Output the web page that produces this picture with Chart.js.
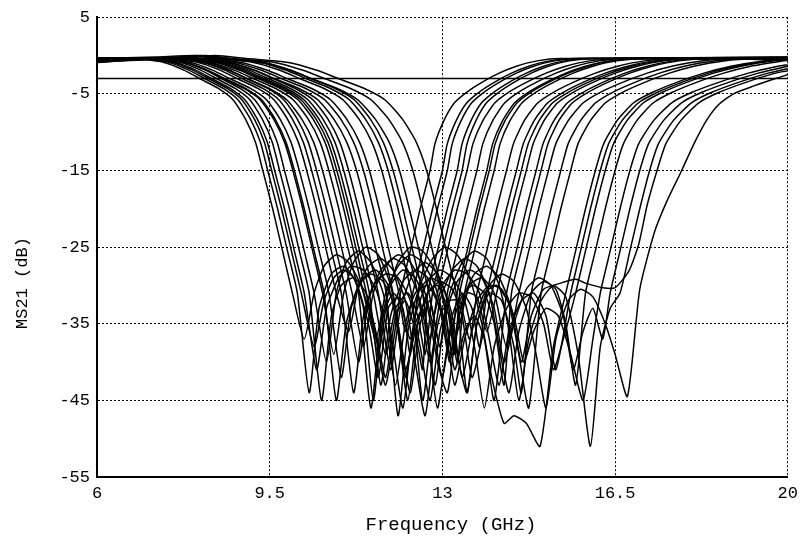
<!DOCTYPE html>
<html>
<head>
<meta charset="utf-8">
<script src="https://cdn.jsdelivr.net/npm/chart.js@4.4.1/dist/chart.umd.min.js"></script>
<style>
  html, body { margin: 0; padding: 0; background: #fff; }
</style>
</head>
<body>
<canvas id="chart" width="804" height="544"></canvas>
<script>
// axis ticks and titles
const freqTicks = [6, 9.5, 13, 16.5, 20];
const dbTicks = [-55, -45, -35, -25, -15, -5, 5];
const xTitle = "Frequency (GHz)";
const yTitle = "MS21 (dB)";

// -3 dB reference level
const refLine = [[6, -3], [20, -3]];

// measured |S21| traces, [GHz, dB]
const s01 = [[6,-0.6],[6.76,-0.4],[7.36,-0.9],[7.76,-1.9],[8.11,-3.1],[8.46,-4.3],[8.76,-5.8],[9.01,-8.3],[9.21,-11.3],[9.36,-15],[9.56,-20],[9.76,-25.5],[9.96,-31],
  [10.2,-37],[10.4,-31],[10.6,-27.5],[10.85,-26],[11.1,-27],[11.35,-30],[11.6,-35],[11.85,-43],
  [12.15,-31],[12.35,-25.5],[12.55,-20],[12.75,-15],[12.85,-11.5],[13.03,-8.5],[13.24,-6.2],[13.49,-4.8],[13.8,-3.5],[14.15,-2.3],[14.5,-1.4],[14.92,-0.7],[15.41,-0.4],[20,-0.5]];
const s02 = [[6,-0.5],[6.86,-0.4],[7.46,-0.9],[7.86,-1.9],[8.21,-3.1],[8.56,-4.3],[8.86,-5.8],[9.11,-8.3],[9.31,-11.3],[9.46,-15],[9.66,-20],[9.86,-25.5],[10.06,-31],
  [10.3,-44],[10.5,-33],[10.75,-28.5],[11.0,-27.5],[11.25,-29.5],[11.5,-35],[11.7,-42],[11.9,-33],[12.1,-31.5],[12.25,-36],
  [12.4,-31],[12.6,-25.5],[12.8,-20],[13.0,-15],[13.1,-11.5],[13.28,-8.5],[13.49,-6.2],[13.74,-4.8],[14.05,-3.5],[14.4,-2.3],[14.75,-1.4],[15.17,-0.7],[15.66,-0.4],[20,-0.3]];
const s03 = [[6,-0.8],[6.94,-0.4],[7.54,-0.9],[7.94,-1.9],[8.29,-3.1],[8.64,-4.3],[8.94,-5.8],[9.19,-8.3],[9.39,-11.3],[9.54,-15],[9.74,-20],[9.94,-25.5],[10.14,-31],
  [10.4,-38],[10.6,-32],[10.8,-29],[11.0,-28],[11.2,-29],[11.4,-33],[11.6,-45],[11.8,-34],[12.0,-31],[12.2,-33],[12.35,-39],
  [12.5,-31],[12.7,-25.5],[12.9,-20],[13.1,-15],[13.2,-11.5],[13.38,-8.5],[13.59,-6.2],[13.84,-4.8],[14.15,-3.5],[14.5,-2.3],[14.85,-1.4],[15.27,-0.7],[15.76,-0.4],[20,-0.4]];
const s04 = [[6,-0.4],[7.1,-0.4],[7.7,-0.9],[8.1,-1.9],[8.45,-3.1],[8.8,-4.3],[9.1,-5.8],[9.35,-8.3],[9.55,-11.3],[9.7,-15],[9.9,-20],[10.1,-25.5],[10.3,-31],
  [10.55,-45],[10.75,-34],[10.95,-30],[11.2,-29],[11.45,-31],[11.65,-36],[11.85,-42],[12.05,-34],[12.25,-32],[12.45,-36],[12.6,-41],
  [12.7,-31],[12.9,-25.5],[13.1,-20],[13.3,-15],[13.4,-11.5],[13.58,-8.5],[13.79,-6.2],[14.04,-4.8],[14.35,-3.5],[14.7,-2.3],[15.05,-1.4],[15.47,-0.7],[15.96,-0.4],[20,-0.2]];
const s05 = [[6,-0.7],[7.2,-0.4],[7.8,-0.9],[8.2,-1.9],[8.55,-3.1],[8.9,-4.3],[9.2,-5.8],[9.45,-8.3],[9.65,-11.3],[9.8,-15],[10.0,-20],[10.2,-25.5],[10.4,-31],
  [10.65,-40],[10.85,-31],[11.05,-27],[11.3,-25.5],[11.55,-27],[11.8,-31],[12.0,-38],[12.2,-46],[12.4,-36],[12.6,-33],[12.75,-37],
  [12.9,-31],[13.1,-25.5],[13.3,-20],[13.5,-15],[13.62,-11.5],[13.82,-8.5],[14.06,-6.2],[14.34,-4.8],[14.7,-3.5],[15.1,-2.3],[15.5,-1.4],[15.98,-0.7],[16.54,-0.4],[20,-0.3]];
const s06 = [[6,-0.3],[7.11,-0.4],[7.77,-0.9],[8.21,-1.9],[8.59,-3.1],[8.98,-4.3],[9.31,-5.8],[9.58,-8.3],[9.8,-11.3],[9.97,-15],[10.17,-20],[10.37,-25.5],[10.57,-31],
  [10.8,-39],[11.0,-31],[11.2,-27],[11.45,-25],[11.7,-26],[11.95,-30],[12.15,-37],[12.35,-44],[12.55,-35],[12.75,-32],[12.95,-38],
  [13.1,-31],[13.3,-25.5],[13.5,-20],[13.7,-15],[13.82,-11.5],[14.02,-8.5],[14.26,-6.2],[14.54,-4.8],[14.9,-3.5],[15.3,-2.3],[15.7,-1.4],[16.18,-0.7],[16.74,-0.4],[20,-0.2]];
const s07 = [[6,-0.9],[7.24,-0.4],[7.9,-0.9],[8.34,-1.9],[8.72,-3.1],[9.11,-4.3],[9.44,-5.8],[9.71,-8.3],[9.93,-11.3],[10.1,-15],[10.3,-20],[10.5,-25.5],[10.7,-31],
  [10.95,-42],[11.15,-33],[11.4,-29],[11.65,-28],[11.9,-30],[12.1,-36],[12.3,-45],[12.5,-35],[12.7,-31],[12.9,-30],[13.1,-33],[13.25,-39],
  [13.35,-31],[13.55,-25.5],[13.75,-20],[13.95,-15],[14.07,-11.5],[14.27,-8.5],[14.51,-6.2],[14.79,-4.8],[15.15,-3.5],[15.55,-2.3],[15.95,-1.4],[16.43,-0.7],[16.99,-0.4],[20,-0.3]];
const s08 = [[6,-0.5],[7.39,-0.4],[8.05,-0.9],[8.49,-1.9],[8.87,-3.1],[9.26,-4.3],[9.59,-5.8],[9.86,-8.3],[10.08,-11.3],[10.25,-15],[10.45,-20],[10.65,-25.5],[10.85,-31],
  [11.1,-36],[11.3,-30],[11.5,-27.5],[11.75,-26.5],[12.0,-28],[12.25,-32],[12.45,-40],[12.65,-47],[12.85,-37],[13.0,-33],[13.15,-34],[13.3,-40],
  [13.45,-31],[13.65,-25.5],[13.85,-20],[14.05,-15],[14.17,-11.5],[14.37,-8.5],[14.61,-6.2],[14.89,-4.8],[15.25,-3.5],[15.65,-2.3],[16.05,-1.4],[16.53,-0.7],[17.09,-0.4],[20,-0.4]];
const s09 = [[6,-0.6],[7.49,-0.4],[8.15,-0.9],[8.59,-1.9],[8.97,-3.1],[9.36,-4.3],[9.69,-5.8],[9.96,-8.3],[10.18,-11.3],[10.35,-15],[10.55,-20],[10.75,-25.5],[10.95,-31],
  [11.2,-44],[11.4,-34],[11.6,-30],[11.85,-28.5],[12.1,-29],[12.35,-32],[12.55,-38],[12.75,-45],[12.95,-36],[13.15,-32],[13.35,-32],[13.55,-37],
  [13.7,-31],[13.9,-25.5],[14.1,-20],[14.3,-15],[14.44,-11.5],[14.66,-8.5],[14.93,-6.2],[15.25,-4.8],[15.65,-3.5],[16.1,-2.3],[16.55,-1.4],[17.09,-0.7],[17.72,-0.4],[20,-0.3]];
const s10 = [[6,-0.4],[7.45,-0.4],[8.17,-0.9],[8.65,-1.9],[9.07,-3.1],[9.49,-4.3],[9.85,-5.8],[10.15,-8.3],[10.39,-11.3],[10.57,-15],[10.77,-20],[10.97,-25.5],[11.17,-31],
  [11.4,-38],[11.6,-31],[11.85,-27.5],[12.1,-26],[12.35,-27],[12.6,-30],[12.8,-35],[13.0,-42],[13.2,-34],[13.4,-31],[13.6,-33],[13.75,-38],
  [13.9,-31],[14.1,-25.5],[14.3,-20],[14.5,-15],[14.64,-11.5],[14.86,-8.5],[15.13,-6.2],[15.45,-4.8],[15.85,-3.5],[16.3,-2.3],[16.75,-1.4],[17.29,-0.7],[17.92,-0.4],[20,-0.4]];
const s11 = [[6,-0.8],[7.58,-0.4],[8.3,-0.9],[8.78,-1.9],[9.2,-3.1],[9.62,-4.3],[9.98,-5.8],[10.28,-8.3],[10.52,-11.3],[10.7,-15],[10.9,-20],[11.1,-25.5],[11.3,-31],
  [11.55,-46],[11.75,-35],[11.95,-30],[12.2,-28],[12.45,-29],[12.7,-33],[12.9,-40],[13.1,-44],[13.3,-35],[13.5,-31],[13.7,-31.5],[13.9,-36],
  [14.1,-31],[14.3,-25.5],[14.5,-20],[14.7,-15],[14.84,-11.5],[15.06,-8.5],[15.33,-6.2],[15.65,-4.8],[16.05,-3.5],[16.5,-2.3],[16.95,-1.4],[17.49,-0.7],[18.12,-0.4],[20,-0.3]];
const s12 = [[6,-0.5],[7.74,-0.4],[8.46,-0.9],[8.94,-1.9],[9.36,-3.1],[9.78,-4.3],[10.14,-5.8],[10.44,-8.3],[10.68,-11.3],[10.86,-15],[11.06,-20],[11.26,-25.5],[11.46,-31],
  [11.7,-39],[11.9,-31],[12.1,-27],[12.35,-25],[12.6,-25.5],[12.85,-28],[13.05,-33],[13.25,-41],[13.45,-36],[13.65,-34],[13.85,-37],[14.05,-45],
  [14.3,-31],[14.5,-25.5],[14.7,-20],[14.9,-15],[15.04,-11.5],[15.26,-8.5],[15.53,-6.2],[15.85,-4.8],[16.25,-3.5],[16.7,-2.3],[17.15,-1.4],[17.69,-0.7],[18.32,-0.4],[20,-0.5]];
const s13 = [[6,-0.7],[7.8,-0.4],[8.52,-0.9],[9.0,-1.9],[9.42,-3.1],[9.84,-4.3],[10.2,-5.8],[10.5,-8.3],[10.74,-11.3],[10.92,-15],[11.12,-20],[11.32,-25.5],[11.52,-31],
  [11.75,-43],[11.95,-34],[12.2,-29.5],[12.45,-28],[12.7,-29],[12.95,-33],[13.15,-39],[13.35,-35],[13.55,-30],[13.8,-29],[14.05,-31],[14.3,-38],
  [14.55,-31],[14.75,-25.5],[14.95,-20],[15.15,-15],[15.3,-11.5],[15.55,-8.5],[15.85,-6.2],[16.2,-4.8],[16.65,-3.5],[17.15,-2.3],[17.65,-1.4],[18.25,-0.7],[18.95,-0.4],[20,-0.4]];
const s14 = [[6,-0.3],[7.98,-0.4],[8.7,-0.9],[9.18,-1.9],[9.6,-3.1],[10.02,-4.3],[10.38,-5.8],[10.68,-8.3],[10.92,-11.3],[11.1,-15],[11.3,-20],[11.5,-25.5],[11.7,-31],
  [11.95,-41],[12.15,-33],[12.4,-28.5],[12.65,-27],[12.9,-28.5],[13.1,-32],[13.3,-39],[13.5,-44],[13.7,-35],[13.95,-31],[14.2,-32],[14.45,-38],[14.6,-44],
  [14.8,-31],[15.0,-25.5],[15.2,-20],[15.4,-15],[15.55,-11.5],[15.8,-8.5],[16.1,-6.2],[16.45,-4.8],[16.9,-3.5],[17.4,-2.3],[17.9,-1.4],[18.5,-0.7],[19.2,-0.4],[20,-0.3]];
const s15 = [[6,-0.6],[7.0,-0.3],[7.88,-0.4],[8.66,-0.9],[9.18,-1.9],[9.63,-3.1],[10.09,-4.3],[10.48,-5.8],[10.8,-8.3],[11.06,-11.3],[11.26,-15],[11.46,-20],[11.66,-25.5],[11.86,-31],
  [12.1,-47],[12.3,-36],[12.5,-31],[12.75,-29],[13.0,-30],[13.2,-34],[13.4,-42],[13.6,-36],[13.85,-31],[14.1,-30],[14.35,-32.5],[14.55,-39],[14.75,-46],
  [15.0,-31],[15.2,-25.5],[15.4,-20],[15.6,-15],[15.75,-11.5],[16.0,-8.5],[16.3,-6.2],[16.65,-4.8],[17.1,-3.5],[17.6,-2.3],[18.1,-1.4],[18.7,-0.7],[19.4,-0.4],[20,-0.4]];
const s16 = [[6,-0.5],[7.2,-0.3],[8.14,-0.4],[8.92,-0.9],[9.44,-1.9],[9.89,-3.1],[10.35,-4.3],[10.74,-5.8],[11.06,-8.3],[11.32,-11.3],[11.52,-15],[11.72,-20],[11.92,-25.5],[12.12,-31],
  [12.35,-37],[12.55,-30],[12.8,-26.5],[13.05,-25],[13.3,-26],[13.55,-29],[13.8,-35],[14.0,-42],[14.25,-48],[14.45,-47],[14.7,-48],[14.98,-51],[15.25,-38],
  [15.5,-31],[15.7,-25.5],[15.9,-20],[16.1,-15],[16.27,-11.5],[16.54,-8.5],[16.87,-6.2],[17.26,-4.8],[17.75,-3.5],[18.3,-2.3],[18.85,-1.4],[19.51,-0.7],[20,-0.5]];
const s17 = [[6,-0.9],[7.2,-0.4],[8.39,-0.4],[9.17,-0.9],[9.69,-1.9],[10.14,-3.1],[10.6,-4.3],[10.99,-5.8],[11.31,-8.3],[11.57,-11.3],[11.77,-15],[11.97,-20],[12.17,-25.5],[12.37,-31],
  [12.6,-45],[12.8,-35],[13.0,-30],[13.25,-28],[13.5,-28.5],[13.75,-31],[13.95,-37],[14.15,-43],[14.35,-36],[14.6,-32],[14.85,-31],[15.1,-34],[15.3,-41],
  [15.6,-31],[15.8,-25.5],[16.0,-20],[16.2,-15],[16.37,-11.5],[16.64,-8.5],[16.97,-6.2],[17.36,-4.8],[17.85,-3.5],[18.4,-2.3],[18.95,-1.4],[19.61,-0.7],[20,-0.55]];
const s18 = [[6,-0.4],[7.2,-0.2],[8.0,0.0],[8.52,-0.4],[9.3,-0.9],[9.82,-1.9],[10.27,-3.1],[10.73,-4.3],[11.12,-5.8],[11.44,-8.3],[11.7,-11.3],[11.9,-15],[12.1,-20],[12.3,-25.5],[12.5,-31],
  [12.75,-40],[12.95,-32],[13.2,-28],[13.45,-26.5],[13.7,-27.5],[13.95,-31],[14.15,-38],[14.35,-44],[14.55,-36],[14.8,-31],[15.05,-29.5],[15.3,-30.5],[15.5,-35],[15.7,-43],
  [15.9,-31],[16.1,-25.5],[16.3,-20],[16.5,-15],[16.67,-11.5],[16.94,-8.5],[17.27,-6.2],[17.66,-4.8],[18.15,-3.5],[18.7,-2.3],[19.25,-1.4],[19.91,-0.7],[20,-0.65]];
const s19 = [[6,-0.6],[7.4,-0.3],[8.1,0.0],[8.62,-0.4],[9.4,-0.9],[9.92,-1.9],[10.37,-3.1],[10.83,-4.3],[11.22,-5.8],[11.54,-8.3],[11.8,-11.3],[12.0,-15],[12.2,-20],[12.4,-25.5],[12.6,-31],
  [12.85,-43],[13.05,-34],[13.3,-29.5],[13.55,-28],[13.8,-29],[14.05,-33],[14.25,-40],[14.45,-35],[14.7,-30.5],[14.95,-29],[15.2,-30],[15.45,-34],[15.65,-41],[15.85,-36],[16.05,-33],[16.25,-37],
  [16.4,-31],[16.6,-25.5],[16.8,-20],[17.0,-15],[17.18,-11.5],[17.48,-8.5],[17.84,-6.2],[18.26,-4.8],[18.8,-3.5],[19.4,-2.3],[20,-1.4]];
const s20 = [[6,-0.7],[7.4,-0.4],[8.0,-0.1],[8.49,-0.4],[9.33,-0.9],[9.89,-1.9],[10.38,-3.1],[10.87,-4.3],[11.29,-5.8],[11.64,-8.3],[11.92,-11.3],[12.13,-15],[12.33,-20],[12.53,-25.5],[12.73,-31],
  [12.95,-38],[13.15,-31],[13.4,-27],[13.65,-25.5],[13.9,-26.5],[14.15,-30],[14.35,-36],[14.55,-45],[14.75,-37],[15.0,-32],[15.25,-30],[15.5,-31.5],[15.75,-39],[16.0,-51],[16.2,-38],[16.4,-33],
  [16.6,-31],[16.8,-25.5],[17.0,-20],[17.2,-15],[17.38,-11.5],[17.68,-8.5],[18.04,-6.2],[18.46,-4.8],[19.0,-3.5],[19.6,-2.3],[20,-1.7]];
const s21 = [[6,-0.5],[7.6,-0.3],[8.2,0.0],[8.76,-0.4],[9.6,-0.9],[10.16,-1.9],[10.65,-3.1],[11.14,-4.3],[11.56,-5.8],[11.91,-8.3],[12.19,-11.3],[12.4,-15],[12.6,-20],[12.8,-25.5],[13.0,-31],
  [13.2,-39],[13.4,-32],[13.65,-28.5],[13.9,-27.5],[14.15,-29],[14.4,-33],[14.6,-40],[14.8,-34],[15.05,-30.5],[15.35,-29.8],[15.7,-29.2],[15.9,-29.7],[16.25,-30.3],[16.5,-30.3],[16.78,-28.1],[16.98,-24.6],
  [17.15,-19.5],[17.35,-15],[17.53,-11.5],[17.83,-8.5],[18.19,-6.2],[18.61,-4.8],[19.15,-3.5],[19.75,-2.3],[20,-2.0]];
const s22 = [[6,-0.8],[7.6,-0.4],[8.4,0.0],[9.04,-0.4],[9.88,-0.9],[10.44,-1.9],[10.93,-3.1],[11.42,-4.3],[11.84,-5.8],[12.19,-8.3],[12.47,-11.3],[12.68,-15],[12.88,-20],[13.08,-25.5],[13.28,-31],
  [13.5,-44],[13.7,-35],[13.95,-30],[14.2,-28.5],[14.45,-29.5],[14.7,-33],[14.9,-39],[15.1,-46],[15.3,-37],[15.55,-32],[15.8,-30.5],[16.05,-31.5],[16.3,-35],[16.5,-39],[16.75,-44.5],
  [17.0,-30.5],[17.3,-23],[17.55,-19],[17.85,-15],[18.1,-11.5],[18.35,-8.5],[18.6,-6.4],[18.9,-5],[19.3,-4],[19.75,-3],[20,-2.5]];
const s23 = [[6,-0.6],[7.0,-0.4],[7.6,-0.9],[8.0,-1.9],[8.35,-3.1],[8.7,-4.3],[9.0,-5.8],[9.25,-8.3],[9.45,-11.3],[9.6,-15],[9.8,-20],[10.0,-25.5],[10.2,-31],
  [10.45,-41],[10.65,-33],[10.9,-29],[11.15,-27.5],[11.4,-28],[11.65,-30.5],[11.85,-35],[12.05,-43],[12.25,-35],[12.45,-31],[12.7,-30],[12.95,-33],[13.15,-40],
  [13.3,-31],[13.5,-25.5],[13.7,-20],[13.9,-15],[14.02,-11.5],[14.22,-8.5],[14.46,-6.2],[14.74,-4.8],[15.1,-3.5],[15.5,-2.3],[15.9,-1.4],[16.38,-0.7],[16.94,-0.4],[20,-0.5]];
const s24 = [[6,-0.5],[7.14,-0.4],[7.8,-0.9],[8.24,-1.9],[8.62,-3.1],[9.01,-4.3],[9.34,-5.8],[9.61,-8.3],[9.83,-11.3],[10.0,-15],[10.2,-20],[10.4,-25.5],[10.6,-31],
  [10.85,-45],[11.05,-35],[11.3,-30],[11.55,-28.5],[11.8,-29.5],[12.05,-33],[12.25,-41],[12.45,-36],[12.7,-31],[12.95,-29.5],[13.2,-30.5],[13.4,-34],[13.6,-42],[13.8,-37],
  [14.0,-31],[14.2,-25.5],[14.4,-20],[14.6,-15],[14.74,-11.5],[14.96,-8.5],[15.23,-6.2],[15.55,-4.8],[15.95,-3.5],[16.4,-2.3],[16.85,-1.4],[17.39,-0.7],[18.02,-0.4],[20,-0.6]];
const s25 = [[6,-0.4],[7.59,-0.4],[8.25,-0.9],[8.69,-1.9],[9.07,-3.1],[9.46,-4.3],[9.79,-5.8],[10.06,-8.3],[10.28,-11.3],[10.45,-15],[10.65,-20],[10.85,-25.5],[11.05,-31],
  [11.3,-40],[11.5,-32],[11.75,-28],[12.0,-26.5],[12.25,-27.5],[12.5,-31],[12.7,-37],[12.9,-46],[13.1,-38],[13.35,-32],[13.6,-30],[13.85,-31],[14.05,-35],[14.25,-43],
  [14.4,-31],[14.6,-25.5],[14.8,-20],[15.0,-15],[15.14,-11.5],[15.36,-8.5],[15.63,-6.2],[15.95,-4.8],[16.35,-3.5],[16.8,-2.3],[17.25,-1.4],[17.79,-0.7],[18.42,-0.4],[20,-0.4]];
const s26 = [[6,-0.7],[7.0,-0.3],[7.88,-0.4],[8.6,-0.9],[9.08,-1.9],[9.5,-3.1],[9.92,-4.3],[10.28,-5.8],[10.58,-8.3],[10.82,-11.3],[11.0,-15],[11.2,-20],[11.4,-25.5],[11.6,-31],
  [11.85,-39],[12.05,-33],[12.3,-31],[12.5,-34],[12.65,-39],
  [12.8,-31],[13.0,-25.5],[13.2,-20],[13.4,-15],[13.5,-11.5],[13.68,-8.5],[13.89,-6.2],[14.14,-4.8],[14.45,-3.5],[14.8,-2.3],[15.15,-1.4],[15.57,-0.7],[16.06,-0.4],[20,-0.3]];
const s27 = [[6,-0.4],[7.2,-0.3],[8.02,-0.4],[8.8,-0.9],[9.32,-1.9],[9.77,-3.1],[10.23,-4.3],[10.62,-5.8],[10.94,-8.3],[11.2,-11.3],[11.4,-15],[11.6,-20],[11.8,-25.5],[12.0,-31],
  [12.25,-42],[12.45,-34],[12.7,-29.5],[12.95,-28],[13.2,-29],[13.45,-32],[13.65,-38],[13.85,-46],[14.05,-38],[14.3,-33],[14.55,-31],[14.8,-31.5],[15.05,-35],[15.25,-41],[15.45,-37],
  [15.7,-31],[15.9,-25.5],[16.1,-20],[16.3,-15],[16.47,-11.5],[16.74,-8.5],[17.07,-6.2],[17.46,-4.8],[17.95,-3.5],[18.5,-2.3],[19.05,-1.4],[19.71,-0.7],[20,-0.6]];
const s28 = [[6,-0.6],[7.68,-0.4],[8.4,-0.9],[8.88,-1.9],[9.3,-3.1],[9.72,-4.3],[10.08,-5.8],[10.38,-8.3],[10.62,-11.3],[10.8,-15],[11.0,-20],[11.2,-25.5],[11.4,-31],
  [11.65,-37],[11.85,-31],[12.1,-27.5],[12.35,-26],[12.6,-27],[12.85,-30],[13.05,-35],[13.25,-43],[13.45,-37],[13.7,-32],[13.95,-30],[14.2,-30.5],[14.45,-34],[14.65,-40],[14.85,-36],[15.1,-33],[15.35,-34],[15.6,-39],[15.85,-45],[16.05,-37],
  [16.2,-31],[16.4,-25.5],[16.6,-20],[16.8,-15],[16.98,-11.5],[17.28,-8.5],[17.64,-6.2],[18.06,-4.8],[18.6,-3.5],[19.2,-2.3],[19.8,-1.4],[20,-1.2]];

const traces = [s01, s02, s03, s04, s05, s06, s07, s08, s09, s10, s11, s12, s13, s14,
                s15, s16, s17, s18, s19, s20, s21, s22, s23, s24, s25, s26, s27, s28];

const monoFont = "'Liberation Mono', 'DejaVu Sans Mono', monospace";

function toPoints(arr) {
  return arr.map(([x, y]) => ({ x: x, y: y }));
}

const datasets = traces.map(t => ({
  data: toPoints(t),
  borderColor: "#000",
  borderWidth: 1.5,
  pointRadius: 0,
  tension: 0.2,
  fill: false
}));
datasets.push({
  data: toPoints(refLine),
  borderColor: "#000",
  borderWidth: 1.4,
  pointRadius: 0,
  fill: false
});

// axis titles drawn where the original puts them
const axisTitles = {
  id: "axisTitles",
  afterDraw(chart) {
    const ctx = chart.ctx;
    ctx.save();
    ctx.fillStyle = "#000";
    ctx.textAlign = "center";
    ctx.textBaseline = "middle";
    ctx.font = "19px " + monoFont;
    ctx.fillText(xTitle, 451, 525);
    ctx.translate(22, 283);
    ctx.rotate(-Math.PI / 2);
    ctx.font = "17px " + monoFont;
    ctx.fillText(yTitle, 0, 0);
    ctx.restore();
  }
};

const gridOpts = { color: "#000", lineWidth: 1, drawTicks: false };
const borderOpts = { display: true, color: "#000", width: 2, dash: [2, 2] };
const tickFont = { family: monoFont, size: 17 };

new Chart(document.getElementById("chart"), {
  type: "line",
  data: { datasets: datasets },
  plugins: [axisTitles],
  options: {
    responsive: false,
    animation: false,
    layout: { padding: { top: 15, right: 15, left: 0, bottom: 0 } },
    plugins: { legend: { display: false }, tooltip: { enabled: false } },
    scales: {
      x: {
        type: "linear",
        min: 6,
        max: 20,
        afterBuildTicks: s => { s.ticks = freqTicks.map(v => ({ value: v })); },
        afterFit: s => { s.height = 67; },
        grid: gridOpts,
        border: borderOpts,
        ticks: { color: "#000", font: tickFont, padding: 6, maxRotation: 0, autoSkip: false }
      },
      y: {
        type: "linear",
        min: -55,
        max: 5,
        afterBuildTicks: s => { s.ticks = dbTicks.map(v => ({ value: v })); },
        afterFit: s => { s.width = 97; },
        grid: gridOpts,
        border: borderOpts,
        ticks: { color: "#000", font: tickFont, padding: 7, autoSkip: false }
      }
    }
  }
});
</script>
</body>
</html>
